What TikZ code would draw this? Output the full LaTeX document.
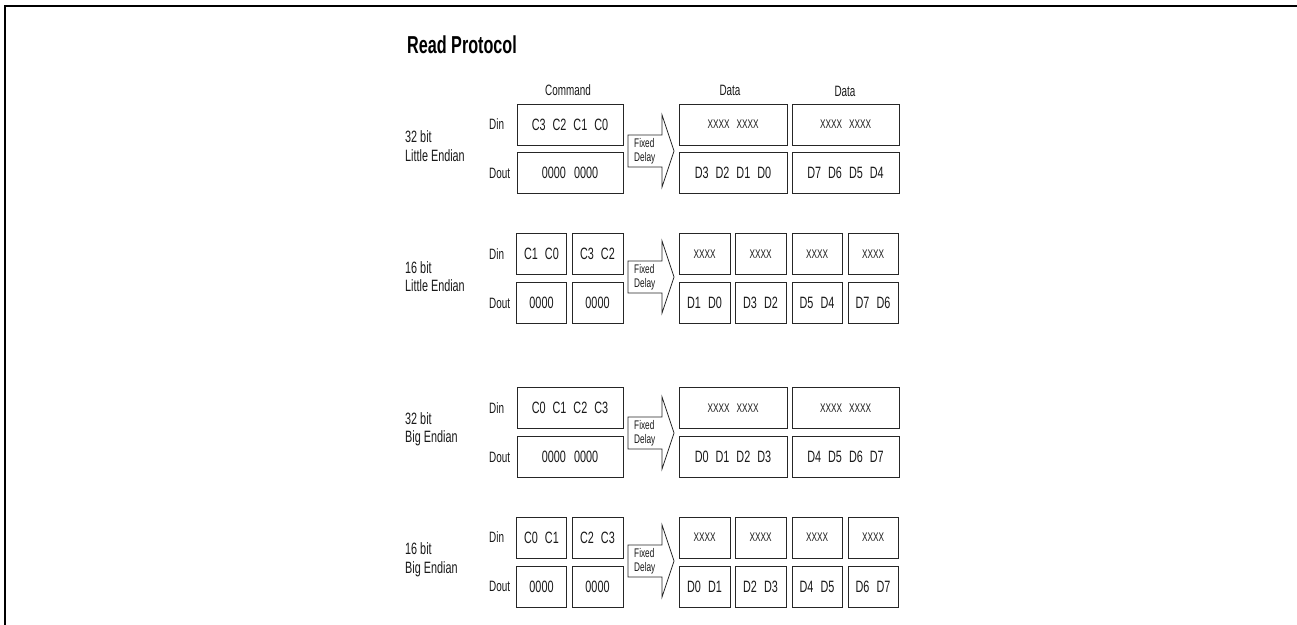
\documentclass[tikz,border=0pt]{standalone}
\usepackage{fontspec}
\setmainfont{Liberation Sans}[FakeStretch=0.66]
\newcommand\mygap{\hspace{7pt}}
\newcommand\fdarrow[2]{%
  \coordinate (#1) at (628,#2);
  \draw[arr] (#1) ++(0,-16) -- ++(34,0) -- ++(0,-20) -- ++(12,36) -- ++(-12,36) -- ++(0,-20) -- ++(-34,0) -- cycle;
  \node[fd] (#1t) at ([xshift=6pt]#1) {Fixed\\Delay};}
\tikzset{
  box/.style={draw=black!85, line width=0.9pt, minimum height=41pt, inner sep=0pt,
    font=\fontsize{16.4}{19}\selectfont, text=black!90},
  xbox/.style={box, font=\fontsize{12.5}{15}\selectfont},
  lbl/.style={font=\fontsize{15}{18}\selectfont, text=black!90, inner sep=0pt},
  side/.style={font=\fontsize{16.4}{18.5}\selectfont, text=black!90, align=left, anchor=west, inner sep=0pt},
  fd/.style={font=\fontsize{12.5}{14}\selectfont, text=black!90, align=left, anchor=west, inner sep=0pt},
  arr/.style={draw=black!85, line width=0.8pt, fill=white}
}
\begin{document}
\begin{tikzpicture}[x=1pt,y=-1pt]
\useasboundingbox (0,0) rectangle (1297,624);
% frame
\draw[line width=2pt] (5,630) -- (5,6.3) -- (1305,6.3);
% title
\node[font=\fontsize{24.5}{28}\selectfont\bfseries, anchor=west, inner sep=0pt] (title) at (407,45) {Read Protocol};
% column labels
\node[lbl] (cmd) at (568,90) {Command};
\node[lbl] (data1) at (730,90) {Data};
\node[lbl] (data2) at (845,91) {Data};

% ---------- Row 1: 32 bit little endian
\node[side] (s1) at (405,146) {32 bit\\Little Endian};
\node[lbl, anchor=west] (din1) at (489,124.5) {Din};
\node[lbl, anchor=west] (dout1) at (489,173) {Dout};
\node[box, minimum width=106pt] (a1) at (570,124.5) {C3\mygap C2\mygap C1\mygap C0};
\node[box, minimum width=106pt] (a2) at (570,173) {0000\hspace{8pt}0000};
\fdarrow{f1}{151}
\node[xbox, minimum width=108pt] (a3) at (733,124.5) {XXXX\hspace{7pt}XXXX};
\node[box, minimum width=108pt] (a4) at (733,173) {D3\mygap D2\mygap D1\mygap D0};
\node[xbox, minimum width=107pt] (a5) at (845.5,124.5) {XXXX\hspace{7pt}XXXX};
\node[box, minimum width=107pt] (a6) at (845.5,173) {D7\mygap D6\mygap D5\mygap D4};

% ---------- Row 2: 16 bit little endian
\node[side] (s2) at (405,276.5) {16 bit\\Little Endian};
\node[lbl, anchor=west] (din2) at (489,254) {Din};
\node[lbl, anchor=west] (dout2) at (489,303) {Dout};
\node[box, minimum width=50pt] (b1) at (541.5,254) {C1\mygap C0};
\node[box, minimum width=51pt] (b2) at (597.5,254) {C3\mygap C2};
\node[box, minimum width=50pt] (b3) at (541.5,303) {0000};
\node[box, minimum width=51pt] (b4) at (597.5,303) {0000};
\fdarrow{f2}{277}
\node[xbox, minimum width=51pt] (b5) at (704.5,254) {XXXX};
\node[xbox, minimum width=51pt] (b6) at (760.5,254) {XXXX};
\node[xbox, minimum width=50pt] (b7) at (817,254) {XXXX};
\node[xbox, minimum width=50pt] (b8) at (873,254) {XXXX};
\node[box, minimum width=51pt] (b9) at (704.5,303) {D1\mygap D0};
\node[box, minimum width=51pt] (b10) at (760.5,303) {D3\mygap D2};
\node[box, minimum width=50pt] (b11) at (817,303) {D5\mygap D4};
\node[box, minimum width=50pt] (b12) at (873,303) {D7\mygap D6};

% ---------- Row 3: 32 bit big endian
\node[side] (s3) at (405,429.5) {32 bit\\Big Endian};
\node[lbl, anchor=west] (din3) at (489,408) {Din};
\node[lbl, anchor=west] (dout3) at (489,457) {Dout};
\node[box, minimum width=106pt] (c1) at (570,408) {C0\mygap C1\mygap C2\mygap C3};
\node[box, minimum width=106pt] (c2) at (570,457) {0000\hspace{8pt}0000};
\fdarrow{f3}{433}
\node[xbox, minimum width=108pt] (c3) at (733,408) {XXXX\hspace{7pt}XXXX};
\node[box, minimum width=108pt] (c4) at (733,457) {D0\mygap D1\mygap D2\mygap D3};
\node[xbox, minimum width=107pt] (c5) at (845.5,408) {XXXX\hspace{7pt}XXXX};
\node[box, minimum width=107pt] (c6) at (845.5,457) {D4\mygap D5\mygap D6\mygap D7};

% ---------- Row 4: 16 bit big endian
\node[side] (s4) at (405,559.5) {16 bit\\Big Endian};
\node[lbl, anchor=west] (din4) at (489,537.5) {Din};
\node[lbl, anchor=west] (dout4) at (489,586.5) {Dout};
\node[box, minimum width=50pt] (d1) at (541.5,537.5) {C0\mygap C1};
\node[box, minimum width=51pt] (d2) at (597.5,537.5) {C2\mygap C3};
\node[box, minimum width=50pt] (d3) at (541.5,586.5) {0000};
\node[box, minimum width=51pt] (d4) at (597.5,586.5) {0000};
\fdarrow{f4}{561}
\node[xbox, minimum width=51pt] (d5) at (704.5,537.5) {XXXX};
\node[xbox, minimum width=51pt] (d6) at (760.5,537.5) {XXXX};
\node[xbox, minimum width=50pt] (d7) at (817,537.5) {XXXX};
\node[xbox, minimum width=50pt] (d8) at (873,537.5) {XXXX};
\node[box, minimum width=51pt] (d9) at (704.5,586.5) {D0\mygap D1};
\node[box, minimum width=51pt] (d10) at (760.5,586.5) {D2\mygap D3};
\node[box, minimum width=50pt] (d11) at (817,586.5) {D4\mygap D5};
\node[box, minimum width=50pt] (d12) at (873,586.5) {D6\mygap D7};
\end{tikzpicture}
\end{document}
